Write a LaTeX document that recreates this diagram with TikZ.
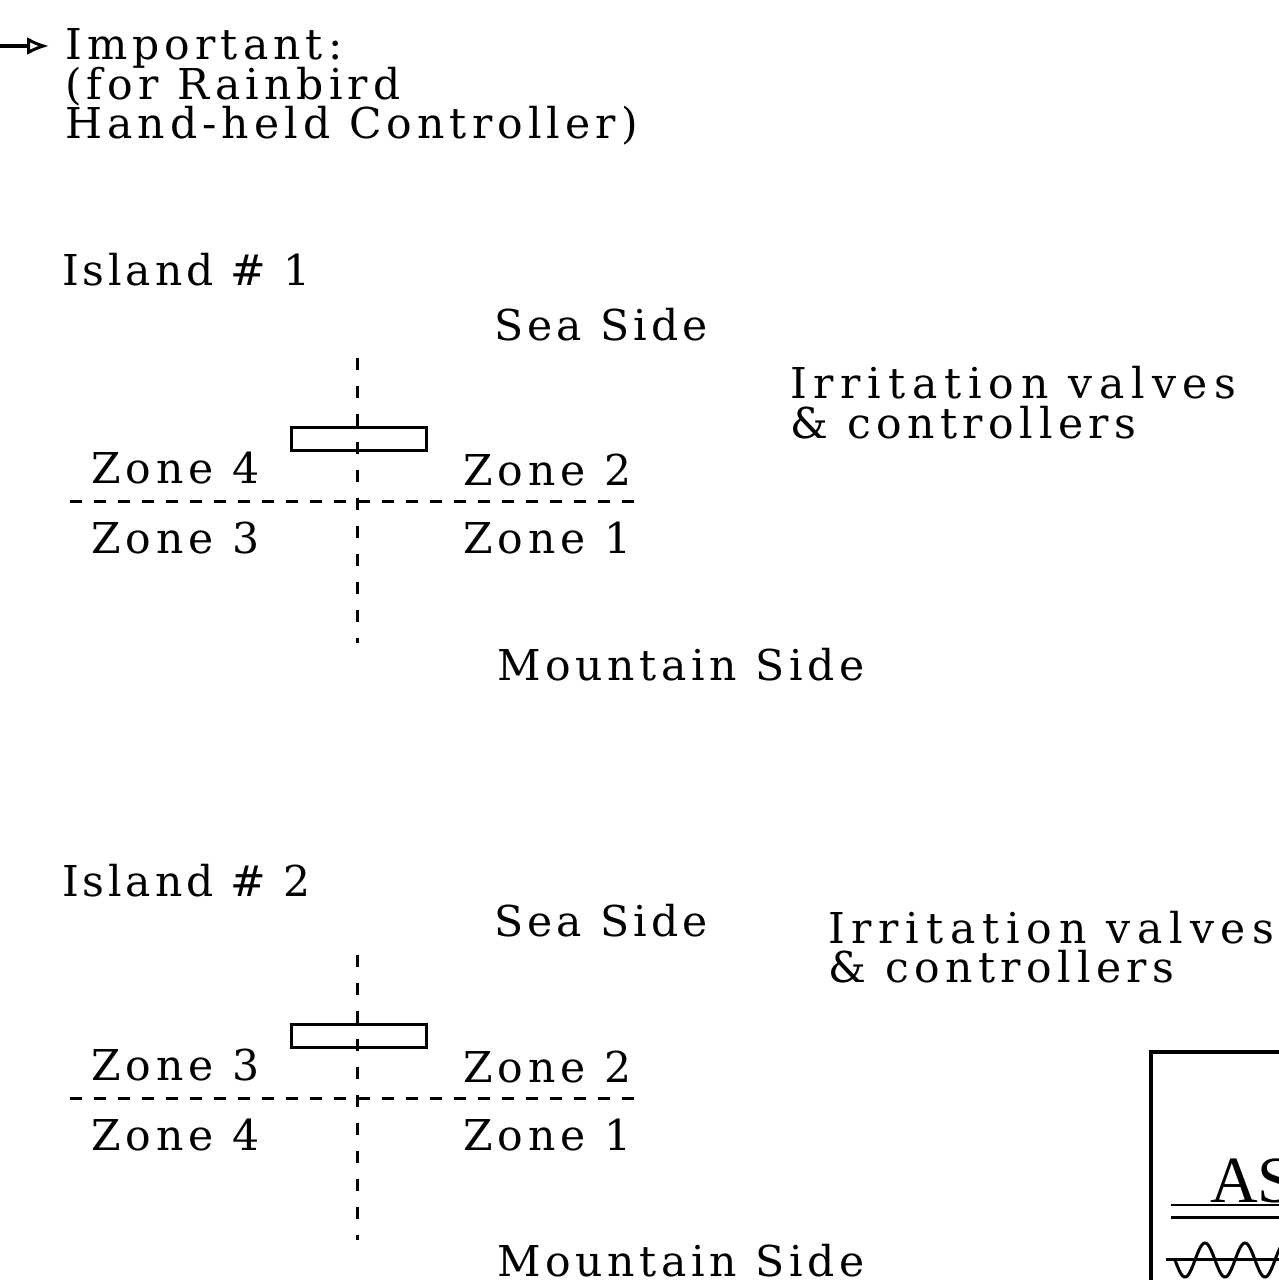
\documentclass[tikz,border=0pt]{standalone}
\usepackage{fontspec}
\setmainfont{DejaVu Serif}
\newfontfamily\lblfont{DejaVu Serif}
\newfontfamily\logofont{Liberation Serif}
\usetikzlibrary{arrows.meta}
\begin{document}
\begin{tikzpicture}[x=1pt,y=-1pt,
  lbl/.style={anchor=base west, inner sep=0pt, font=\lblfont\fontsize{42.5}{50}\selectfont\addfontfeature{LetterSpace=#1}},
  lbl/.default=11,
  dashv/.style={line width=3pt, dash pattern=on 12pt off 16pt},
  dashh/.style={line width=3pt, dash pattern=on 12pt off 12pt},
  ctrl/.style={draw, line width=3pt, minimum width=135pt, minimum height=23pt, inner sep=0pt},
  hdarrow/.style={line width=3.5pt, -{Latex[open, length=22pt, width=18pt, line width=3pt]}},
]
\useasboundingbox (0,0) rectangle (1279,1280);

% header
\node[lbl=12] (imp1) at (65,59) {Important:};
\node[lbl=12] (imp2) at (65,99) {(for Rainbird};
\node[lbl=12] (imp3) at (65,138) {Hand-held Controller)};
\coordinate (arrs) at (0,46);
\coordinate (arre) at (49,46);
\draw[hdarrow] (arrs) -- (arre);

% Island 1
\node[lbl=9] (isl1) at (62,285) {Island \# 1};
\node[lbl=10] (sea1) at (494,340) {Sea Side};
\node[lbl=16] (irr1a) at (790,398) {Irritation valves};
\node[lbl=13] (irr1b) at (790,438) {\& controllers};
\coordinate (v1t) at (357,358);
\coordinate (v1b) at (357,643);
\coordinate (h1l) at (70,501);
\coordinate (h1r) at (645,501);
\draw[dashv] (v1t) -- (v1b);
\draw[dashh] (h1l) -- (h1r);
\node[ctrl] (ctl1) at (358.5,438.5) {};
\node[lbl=12] (z1a) at (91,483) {Zone 4};
\node[lbl=12] (z1b) at (463,485) {Zone 2};
\node[lbl=12] (z1c) at (91,553) {Zone 3};
\node[lbl=12] (z1d) at (463,553) {Zone 1};
\node[lbl] (mtn1) at (497,680) {Mountain Side};

% Island 2
\node[lbl=9] (isl2) at (62,896) {Island \# 2};
\node[lbl=10] (sea2) at (494,936) {Sea Side};
\node[lbl=16] (irr2a) at (828,943) {Irritation valves};
\node[lbl=13] (irr2b) at (828,982) {\& controllers};
\coordinate (v2t) at (357,955);
\coordinate (v2b) at (357,1240);
\coordinate (h2l) at (70,1098);
\coordinate (h2r) at (645,1098);
\draw[dashv] (v2t) -- (v2b);
\draw[dashh] (h2l) -- (h2r);
\node[ctrl] (ctl2) at (358.5,1035.5) {};
\node[lbl=12] (z2a) at (91,1080) {Zone 3};
\node[lbl=12] (z2b) at (463,1082) {Zone 2};
\node[lbl=12] (z2c) at (91,1150) {Zone 4};
\node[lbl=12] (z2d) at (463,1150) {Zone 1};
\node[lbl] (mtn2) at (497,1276) {Mountain Side};

% logo (cut off)
\begin{scope}
\clip (0,0) rectangle (1279,1280);
\draw[line width=3.5pt] (1151,1300) -- (1151,1052) -- (1300,1052);
\node[anchor=base west, inner sep=0pt, font=\logofont\fontsize{66}{70}\selectfont] (logo) at (1210,1202) {AS};
\draw[line width=2.5pt] (1171,1205) -- (1300,1205);
\draw[line width=3pt] (1171,1217) -- (1300,1217);
\draw[line width=3pt] (1166,1259) -- (1300,1259);
\draw[line width=3pt] plot[domain=1175:1300, samples=120] (\x, {1260 + 17*cos((\x-1185)*9)});
\end{scope}
\end{tikzpicture}
\end{document}
